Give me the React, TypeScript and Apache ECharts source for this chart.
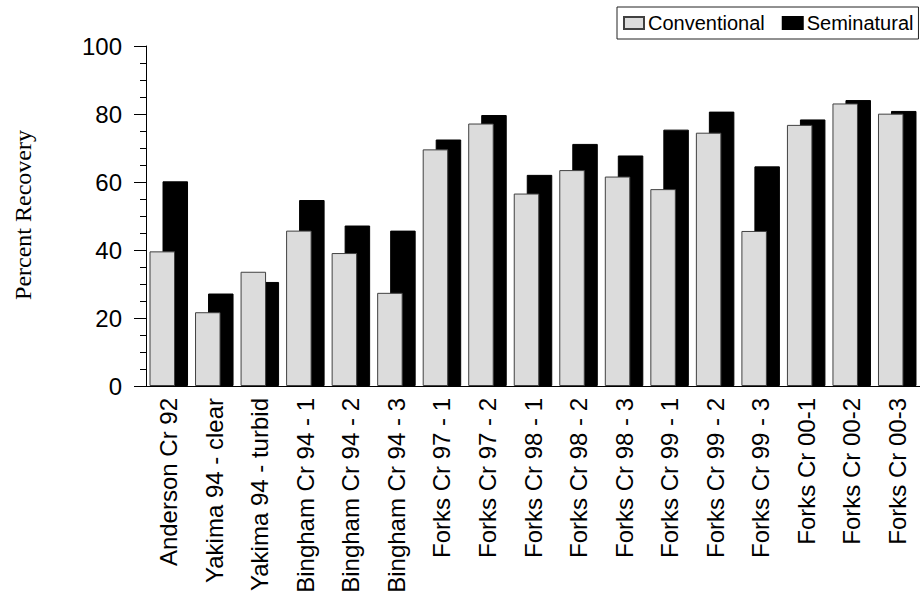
import React, { useEffect, useRef } from "react";
import * as echarts from "echarts";

const categories = [
  "Anderson Cr 92",
  "Yakima 94 - clear",
  "Yakima 94 - turbid",
  "Bingham Cr 94 - 1",
  "Bingham Cr 94 - 2",
  "Bingham Cr 94 - 3",
  "Forks Cr 97 - 1",
  "Forks Cr 97 - 2",
  "Forks Cr 98 - 1",
  "Forks Cr 98 - 2",
  "Forks Cr 98 - 3",
  "Forks Cr 99 - 1",
  "Forks Cr 99 - 2",
  "Forks Cr 99 - 3",
  "Forks Cr 00-1",
  "Forks Cr 00-2",
  "Forks Cr 00-3",
];

const conventional = [39.6, 21.7, 33.6, 45.7, 39.1, 27.4, 69.6, 77.2, 56.6, 63.5, 61.6, 57.9, 74.5, 45.6, 76.8, 83.1, 80.1];
const seminatural = [60.2, 27.2, 30.6, 54.7, 47.2, 45.7, 72.5, 79.7, 62.1, 71.2, 67.8, 75.4, 80.7, 64.6, 78.4, 84.1, 80.9];

const yTicks = { min: 0, max: 100, interval: 20 };

export default function App() {
  const ref = useRef<HTMLDivElement>(null);

  useEffect(() => {
    document.body.style.margin = "0";
    if (!ref.current) return;
    const chart = echarts.init(ref.current, undefined, { renderer: "svg" });
    const sans = "Liberation Sans, Arial, sans-serif";
    chart.setOption({
      animation: false,
      backgroundColor: "#ffffff",
      grid: { left: 146, top: 46, width: 776, height: 340, containLabel: false },
      legend: {
        data: ["Conventional", "Seminatural"],
        left: 617,
        top: 7,
        orient: "horizontal",
        icon: "rect",
        itemWidth: 20,
        itemHeight: 12,
        itemGap: 17,
        padding: [5, 5, 5, 6],
        borderColor: "#222",
        borderWidth: 1,
        textStyle: { fontFamily: sans, fontSize: 20, color: "#000", padding: [0, 0, 0, -1], lineHeight: 22 },
      },
      graphic: [
        {
          type: "text",
          x: 23,
          y: 215,
          rotation: Math.PI / 2,
          style: {
            text: "Percent Recovery",
            font: "24px 'Liberation Serif', 'Times New Roman', serif",
            fill: "#000",
            align: "center",
            verticalAlign: "middle",
          },
        },
      ],
      xAxis: {
        type: "category",
        data: categories,
        axisLine: { show: true, lineStyle: { color: "#000", width: 1 } },
        axisTick: { show: false },
        axisLabel: {
          interval: 0,
          rotate: 90,
          margin: 12,
          color: "#000",
          fontFamily: sans,
          fontSize: 24,
        },
        splitLine: { show: false },
      },
      yAxis: {
        type: "value",
        min: yTicks.min,
        max: yTicks.max,
        interval: yTicks.interval,
        axisLine: { show: true, lineStyle: { color: "#000", width: 1 } },
        axisTick: { show: true, length: 12, lineStyle: { color: "#000", width: 1 } },
        minorTick: { show: true, splitNumber: 4, length: 6, lineStyle: { color: "#000", width: 1 } },
        axisLabel: { margin: 24, color: "#000", fontFamily: sans, fontSize: 24 },
        splitLine: { show: false },
        minorSplitLine: { show: false },
      },
      series: [
        {
          name: "Conventional",
          type: "bar",
          data: conventional,
          barWidth: 25.5,
          barGap: "-49%",
          z: 3,
          itemStyle: { color: "#dcdcdc", borderColor: "#404040", borderWidth: 1 },
        },
        {
          name: "Seminatural",
          type: "bar",
          data: seminatural,
          barWidth: 25.5,
          barGap: "-49%",
          z: 2,
          itemStyle: { color: "#000000", borderColor: "#000000", borderWidth: 1 },
        },
      ],
    });
    return () => chart.dispose();
  }, []);

  return <div ref={ref} style={{ width: 920, height: 597 }} />;
}
